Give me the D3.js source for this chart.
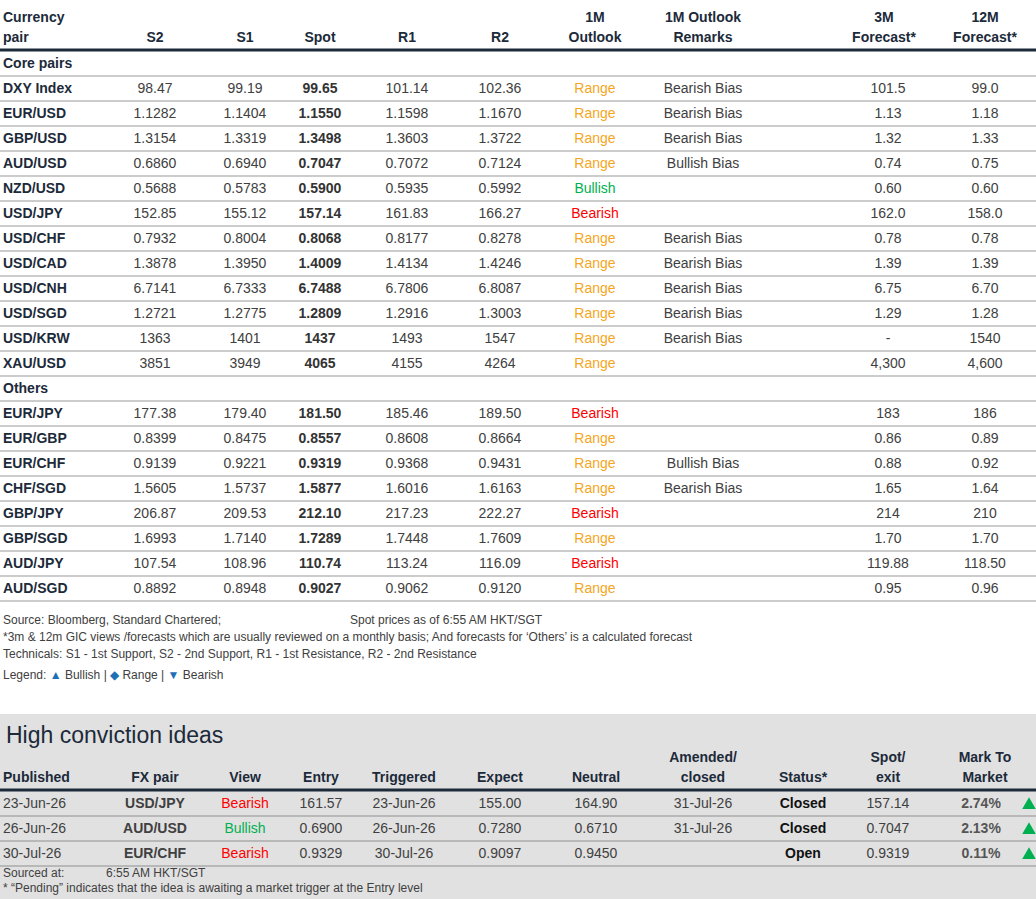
<!DOCTYPE html>
<html><head><meta charset="utf-8">
<script src="https://cdn.jsdelivr.net/npm/d3@7"></script>
<style>body{margin:0;background:#fff}svg text{font-family:"Liberation Sans",Arial,sans-serif}</style>
</head><body><div id="chart"></div>
<script>
// data
var corePairs = ['DXY Index','EUR/USD','GBP/USD','AUD/USD','NZD/USD','USD/JPY','USD/CHF','USD/CAD','USD/CNH','USD/SGD','USD/KRW','XAU/USD'];
var coreS2 = ['98.47','1.1282','1.3154','0.6860','0.5688','152.85','0.7932','1.3878','6.7141','1.2721','1363','3851'];
var coreS1 = ['99.19','1.1404','1.3319','0.6940','0.5783','155.12','0.8004','1.3950','6.7333','1.2775','1401','3949'];
var coreSpot = ['99.65','1.1550','1.3498','0.7047','0.5900','157.14','0.8068','1.4009','6.7488','1.2809','1437','4065'];
var coreR1 = ['101.14','1.1598','1.3603','0.7072','0.5935','161.83','0.8177','1.4134','6.7806','1.2916','1493','4155'];
var coreR2 = ['102.36','1.1670','1.3722','0.7124','0.5992','166.27','0.8278','1.4246','6.8087','1.3003','1547','4264'];
var coreOutlook = ['Range','Range','Range','Range','Bullish','Bearish','Range','Range','Range','Range','Range','Range'];
var coreRemarks = ['Bearish Bias','Bearish Bias','Bearish Bias','Bullish Bias','','','Bearish Bias','Bearish Bias','Bearish Bias','Bearish Bias','Bearish Bias',''];
var core3M = ['101.5','1.13','1.32','0.74','0.60','162.0','0.78','1.39','6.75','1.29','-','4,300'];
var core12M = ['99.0','1.18','1.33','0.75','0.60','158.0','0.78','1.39','6.70','1.28','1540','4,600'];

var otherPairs = ['EUR/JPY','EUR/GBP','EUR/CHF','CHF/SGD','GBP/JPY','GBP/SGD','AUD/JPY','AUD/SGD'];
var otherS2 = ['177.38','0.8399','0.9139','1.5605','206.87','1.6993','107.54','0.8892'];
var otherS1 = ['179.40','0.8475','0.9221','1.5737','209.53','1.7140','108.96','0.8948'];
var otherSpot = ['181.50','0.8557','0.9319','1.5877','212.10','1.7289','110.74','0.9027'];
var otherR1 = ['185.46','0.8608','0.9368','1.6016','217.23','1.7448','113.24','0.9062'];
var otherR2 = ['189.50','0.8664','0.9431','1.6163','222.27','1.7609','116.09','0.9120'];
var otherOutlook = ['Bearish','Range','Range','Range','Bearish','Range','Bearish','Range'];
var otherRemarks = ['','','Bullish Bias','Bearish Bias','','','',''];
var other3M = ['183','0.86','0.88','1.65','214','1.70','119.88','0.95'];
var other12M = ['186','0.89','0.92','1.64','210','1.70','118.50','0.96'];

var ideaPublished = ['23-Jun-26','26-Jun-26','30-Jul-26'];
var ideaPair = ['USD/JPY','AUD/USD','EUR/CHF'];
var ideaView = ['Bearish','Bullish','Bearish'];
var ideaEntry = ['161.57','0.6900','0.9329'];
var ideaTriggered = ['23-Jun-26','26-Jun-26','30-Jul-26'];
var ideaExpect = ['155.00','0.7280','0.9097'];
var ideaNeutral = ['164.90','0.6710','0.9450'];
var ideaAmended = ['31-Jul-26','31-Jul-26',''];
var ideaStatus = ['Closed','Closed','Open'];
var ideaSpot = ['157.14','0.7047','0.9319'];
var ideaMtm = ['2.74%','2.13%','0.11%'];

var W = 1036, H = 899;
var svg = d3.select('#chart').append('svg').attr('width', W).attr('height', H);
var navy = '#1c2a3a', grey = '#404040';
var outlookColor = {Range: '#f5a623', Bullish: '#00b050', Bearish: '#ff0000'};

// top table header
var cols = [155, 245, 320, 407, 500, 595, 703, 888, 985];
function hdr(x, y, t, anchor) {
    svg.append('text').attr('x', x).attr('y', y).attr('text-anchor', anchor || 'middle')
        .attr('font-size', 14).attr('font-weight', 'bold').attr('fill', navy).text(t);
}
hdr(3, 22, 'Currency', 'start'); hdr(3, 42, 'pair', 'start');
['S2','S1','Spot','R1','R2'].forEach((t, i) => hdr(cols[i], 42, t));
hdr(cols[5], 22, '1M'); hdr(cols[5], 42, 'Outlook');
hdr(cols[6], 22, '1M Outlook'); hdr(cols[6], 42, 'Remarks');
hdr(cols[7] - 4, 22, '3M'); hdr(cols[7] - 4, 42, 'Forecast*');
hdr(cols[8], 22, '12M'); hdr(cols[8], 42, 'Forecast*');
svg.append('line').attr('x1', 0).attr('x2', W).attr('y1', 50).attr('y2', 50).attr('stroke', navy).attr('stroke-width', 3);

var y = d3.scaleLinear().domain([0, 1]).range([0, 25]); // row scale
function section(title, y0, pairs, s2, s1, spot, r1, r2, out, rem, f3, f12) {
    hdr(3, y0 + 5, title, 'start');
    svg.append('line').attr('x1', 0).attr('x2', W).attr('y1', y0 + 13).attr('y2', y0 + 13).attr('stroke', '#bbb').attr('stroke-width', 1.5);
    pairs.forEach(function(p, i) {
        var cy = y0 + y(i + 1) + 5;
        hdr(3, cy, p, 'start');
        [s2[i], s1[i], spot[i], r1[i], r2[i]].forEach(function(v, j) {
            svg.append('text').attr('x', cols[j]).attr('y', cy).attr('text-anchor', 'middle')
                .attr('font-size', 14).attr('font-weight', j == 2 ? 'bold' : 'normal')
                .attr('fill', j == 2 ? '#333' : grey).text(v);
        });
        svg.append('text').attr('x', cols[5]).attr('y', cy).attr('text-anchor', 'middle').attr('font-size', 14)
            .attr('fill', outlookColor[out[i]]).text(out[i]);
        svg.append('text').attr('x', cols[6]).attr('y', cy).attr('text-anchor', 'middle').attr('font-size', 14)
            .attr('fill', grey).text(rem[i]);
        svg.append('text').attr('x', cols[7]).attr('y', cy).attr('text-anchor', 'middle').attr('font-size', 14)
            .attr('fill', grey).text(f3[i]);
        svg.append('text').attr('x', cols[8]).attr('y', cy).attr('text-anchor', 'middle').attr('font-size', 14)
            .attr('fill', grey).text(f12[i]);
        svg.append('line').attr('x1', 0).attr('x2', W).attr('y1', cy + 8).attr('y2', cy + 8)
            .attr('stroke', '#bbb').attr('stroke-width', 1.5);
    });
}
section('Core pairs', 63, corePairs, coreS2, coreS1, coreSpot, coreR1, coreR2, coreOutlook, coreRemarks, core3M, core12M);
section('Others', 388, otherPairs, otherS2, otherS1, otherSpot, otherR1, otherR2, otherOutlook, otherRemarks, other3M, other12M);

// footnotes
function note(x, yy, t, fill) {
    return svg.append('text').attr('x', x).attr('y', yy).attr('font-size', 12).attr('fill', fill || grey).text(t);
}
note(3, 624, 'Source: Bloomberg, Standard Chartered;');
note(350, 624, 'Spot prices as of 6:55 AM HKT/SGT');
note(3, 641, "*3m & 12m GIC views /forecasts which are usually reviewed on a monthly basis; And forecasts for \u2018Others\u2019 is a calculated forecast");
note(3, 658, 'Technicals: S1 - 1st Support, S2 - 2nd Support, R1 - 1st Resistance, R2 - 2nd Resistance');
var lg = note(3, 679, 'Legend: ');
lg.append('tspan').attr('fill', '#1f6fb5').text('\u25B2');
lg.append('tspan').text(' Bullish  | ');
lg.append('tspan').attr('fill', '#1f6fb5').text('\u25C6');
lg.append('tspan').text(' Range | ');
lg.append('tspan').attr('fill', '#1f6fb5').text('\u25BC');
lg.append('tspan').text(' Bearish');

// high conviction ideas
svg.append('rect').attr('x', 0).attr('y', 714).attr('width', W).attr('height', H - 714).attr('fill', '#e1e1e1');
svg.append('text').attr('x', 6).attr('y', 743).attr('font-size', 23).attr('fill', navy).text('High conviction ideas');
var ic = [3, 155, 245, 321, 404, 500, 596, 703, 803, 888, 985];
hdr(3, 782, 'Published', 'start');
['FX pair','View','Entry','Triggered','Expect','Neutral'].forEach((t, i) => hdr(ic[i + 1], 782, t));
hdr(ic[7], 762, 'Amended/'); hdr(ic[7], 782, 'closed');
hdr(ic[8], 782, 'Status*');
hdr(ic[9], 762, 'Spot/'); hdr(ic[9], 782, 'exit');
hdr(ic[10], 762, 'Mark To'); hdr(ic[10], 782, 'Market');
svg.append('line').attr('x1', 0).attr('x2', W).attr('y1', 790).attr('y2', 790).attr('stroke', navy).attr('stroke-width', 3);
var ry = d3.scaleLinear().domain([0, 1]).range([808, 833]);
ideaPublished.forEach(function(p, i) {
    var cy = ry(i);
    function t(x, v, o) {
        svg.append('text').attr('x', x).attr('y', cy).attr('text-anchor', (o && o.a) || 'middle')
            .attr('font-size', 14).attr('font-weight', (o && o.b) ? 'bold' : 'normal')
            .attr('fill', (o && o.c) || grey).text(v);
    }
    t(3, p, {a: 'start'});
    t(ic[1], ideaPair[i], {b: 1});
    t(ic[2], ideaView[i], {c: outlookColor[ideaView[i]]});
    t(ic[3], ideaEntry[i]);
    t(ic[4], ideaTriggered[i]);
    t(ic[5], ideaExpect[i]);
    t(ic[6], ideaNeutral[i]);
    t(ic[7], ideaAmended[i]);
    t(ic[8], ideaStatus[i], {b: 1, c: '#111'});
    t(ic[9], ideaSpot[i]);
    t(ic[10] - 4, ideaMtm[i], {b: 1, c: '#555'});
    svg.append('path').attr('d', d3.symbol(d3.symbolTriangle, 80)())
        .attr('transform', `translate(1029,${cy - 3})`).attr('fill', '#00b050');
    svg.append('line').attr('x1', 0).attr('x2', W).attr('y1', cy + 8).attr('y2', cy + 8)
        .attr('stroke', '#aaa').attr('stroke-width', 1.5);
});
note(3, 877, 'Sourced at:');
note(106, 877, '6:55 AM HKT/SGT');
note(3, 892, '* \u201cPending\u201d indicates that the idea is awaiting a market trigger at the Entry level');
</script></body></html>
